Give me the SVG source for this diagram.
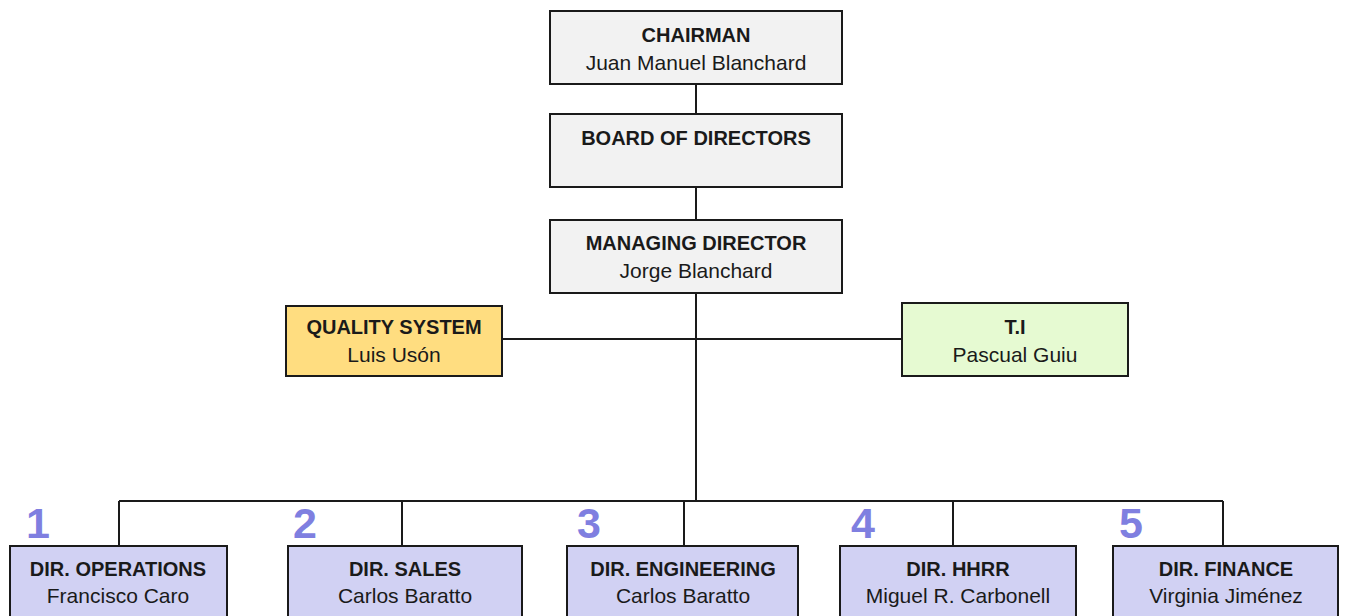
<svg xmlns="http://www.w3.org/2000/svg" width="1346" height="616" viewBox="0 0 1346 616">
<style>
.box{stroke:#1a1a1a;stroke-width:2}
.g{fill:#f2f2f2}
.q{fill:#ffdd80}
.t{fill:#e6fad2}
.d{fill:#d1d1f3}
text{font-family:"Liberation Sans",Arial,sans-serif;font-size:21px;fill:#1a1a1a;text-anchor:middle}
.b{font-weight:bold;font-size:20px}
.num{font-size:43px;font-weight:bold;fill:#7f7fe0}
.ln{stroke:#1a1a1a;stroke-width:2;fill:none}
</style>
<rect width="1346" height="616" fill="#ffffff"/>
<g id="connectors">
<path class="ln" d="M696 84V114M696 187V220M696 293V501M502 339H902M119 501H1223M119 501V546M402 501V546M684 501V546M953 501V546M1223 501V546"/>
</g>
<g id="chairman"><rect class="box g" x="550" y="11" width="292" height="73"/><text class="b" x="696" y="42">CHAIRMAN</text><text x="696" y="70">Juan Manuel Blanchard</text></g>
<g id="board"><rect class="box g" x="550" y="114" width="292" height="73"/><text class="b" x="696" y="145">BOARD OF DIRECTORS</text></g>
<g id="managing"><rect class="box g" x="550" y="220" width="292" height="73"/><text class="b" x="696" y="250">MANAGING DIRECTOR</text><text x="696" y="278">Jorge Blanchard</text></g>
<g id="quality"><rect class="box q" x="286" y="306" width="216" height="70"/><text class="b" x="394" y="334">QUALITY SYSTEM</text><text x="394" y="362">Luis Usón</text></g>
<g id="ti"><rect class="box t" x="902" y="303" width="226" height="73"/><text class="b" x="1015" y="334">T.I</text><text x="1015" y="362">Pascual Guiu</text></g>
<g id="dir1"><text class="num" x="38" y="538">1</text><rect class="box d" x="10" y="546" width="217" height="80"/><text class="b" x="118" y="576">DIR. OPERATIONS</text><text x="118" y="603">Francisco Caro</text></g>
<g id="dir2"><text class="num" x="305" y="538">2</text><rect class="box d" x="288" y="546" width="234" height="80"/><text class="b" x="405" y="576">DIR. SALES</text><text x="405" y="603">Carlos Baratto</text></g>
<g id="dir3"><text class="num" x="589" y="538">3</text><rect class="box d" x="567" y="546" width="231" height="80"/><text class="b" x="683" y="576">DIR. ENGINEERING</text><text x="683" y="603">Carlos Baratto</text></g>
<g id="dir4"><text class="num" x="863" y="538">4</text><rect class="box d" x="840" y="546" width="236" height="80"/><text class="b" x="958" y="576">DIR. HHRR</text><text x="958" y="603">Miguel R. Carbonell</text></g>
<g id="dir5"><text class="num" x="1131" y="538">5</text><rect class="box d" x="1113" y="546" width="225" height="80"/><text class="b" x="1226" y="576">DIR. FINANCE</text><text x="1226" y="603">Virginia Jiménez</text></g>
</svg>
